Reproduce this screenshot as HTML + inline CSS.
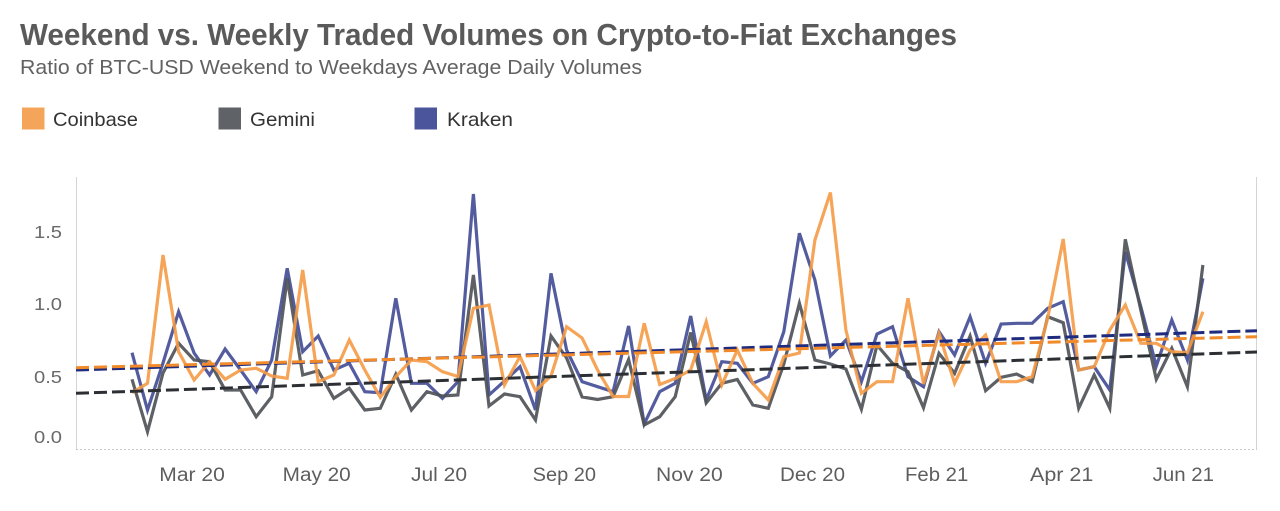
<!DOCTYPE html>
<html>
<head>
<meta charset="utf-8">
<style>
  html, body { margin: 0; padding: 0; background: #ffffff; }
  body { width: 1280px; height: 511px; overflow: hidden; }
  svg { display: block; }
  text { font-family: "Liberation Sans", "DejaVu Sans", sans-serif; }
</style>
</head>
<body>
<svg width="1280" height="511" viewBox="0 0 1280 511" xmlns="http://www.w3.org/2000/svg">
  <rect x="0" y="0" width="1280" height="511" fill="#ffffff"/>

  <!-- Title & subtitle -->
  <text x="20" y="45" font-size="31" font-weight="bold" fill="#5a5a5a" textLength="937" lengthAdjust="spacingAndGlyphs">Weekend vs. Weekly Traded Volumes on Crypto-to-Fiat Exchanges</text>
  <text x="20" y="74" font-size="20" fill="#626262" textLength="622" lengthAdjust="spacingAndGlyphs">Ratio of BTC-USD Weekend to Weekdays Average Daily Volumes</text>

  <!-- Legend -->
  <rect x="22" y="107.5" width="22.5" height="22" fill="#f4a55a"/>
  <text x="53" y="126" font-size="19.5" fill="#333333" textLength="85" lengthAdjust="spacingAndGlyphs">Coinbase</text>
  <rect x="218.5" y="107.5" width="22.5" height="22" fill="#5f6266"/>
  <text x="250" y="126" font-size="19.5" fill="#333333" textLength="65" lengthAdjust="spacingAndGlyphs">Gemini</text>
  <rect x="414.5" y="107.5" width="22.5" height="22" fill="#4b559c"/>
  <text x="447" y="126" font-size="19.5" fill="#333333" textLength="66" lengthAdjust="spacingAndGlyphs">Kraken</text>

  <!-- Plot frame -->
  <line x1="76.5" y1="177" x2="76.5" y2="449" stroke="#d4d4d4" stroke-width="1"/>
  <line x1="1256.5" y1="177" x2="1256.5" y2="449" stroke="#d4d4d4" stroke-width="1"/>
  <line x1="76" y1="449.5" x2="1257" y2="449.5" stroke="#c8c8c8" stroke-width="1" stroke-dasharray="2,2"/>

  <!-- Y tick labels -->
  <g font-size="17.5" fill="#6a6a6a">
    <text x="34" y="238" textLength="28" lengthAdjust="spacingAndGlyphs">1.5</text>
    <text x="34" y="310" textLength="28" lengthAdjust="spacingAndGlyphs">1.0</text>
    <text x="34" y="383" textLength="28" lengthAdjust="spacingAndGlyphs">0.5</text>
    <text x="34" y="443" textLength="28" lengthAdjust="spacingAndGlyphs">0.0</text>
  </g>

  <!-- X tick labels -->
  <g font-size="19" fill="#5e5e5e">
    <text x="159.3" y="481" textLength="65.5" lengthAdjust="spacingAndGlyphs">Mar 20</text>
    <text x="282.7" y="481" textLength="68" lengthAdjust="spacingAndGlyphs">May 20</text>
    <text x="411" y="481" textLength="56" lengthAdjust="spacingAndGlyphs">Jul 20</text>
    <text x="532.7" y="481" textLength="63.3" lengthAdjust="spacingAndGlyphs">Sep 20</text>
    <text x="656" y="481" textLength="66.7" lengthAdjust="spacingAndGlyphs">Nov 20</text>
    <text x="780" y="481" textLength="65" lengthAdjust="spacingAndGlyphs">Dec 20</text>
    <text x="905" y="481" textLength="63.3" lengthAdjust="spacingAndGlyphs">Feb 21</text>
    <text x="1030" y="481" textLength="63.3" lengthAdjust="spacingAndGlyphs">Apr 21</text>
    <text x="1152.7" y="481" textLength="61.3" lengthAdjust="spacingAndGlyphs">Jun 21</text>
  </g>

  <!-- Series -->
  <g fill="none" stroke-width="3.2" stroke-linejoin="miter" stroke-linecap="butt">
    <!-- Kraken -->
    <polyline stroke="#4a5399" stroke-opacity="0.95" points="132,352.7 147.5,410 163,363 178.6,311.7 194.1,353 209.6,375 225.1,349 240.6,370 256.2,391.7 271.7,360 287.2,268.3 302.7,351.7 318.2,336 333.8,370 349.3,363.3 364.8,391.7 380.3,392.7 395.8,298.3 411.4,383.3 426.9,383.3 442.4,398.3 457.9,381.7 473.4,194 489,395 504.5,381 520,366.7 535.5,410 551,273.3 566.6,350 582.1,381.7 597.6,386.7 613.1,391.7 628.6,326 644.2,424 659.7,391.7 675.2,383.3 690.7,316 706.2,400 721.8,361.7 737.3,363.3 752.8,383.3 768.3,376.7 783.8,331.7 799.4,233.3 814.9,280 830.4,356 845.9,340 861.4,381.7 877,334 892.5,326.7 908,376.7 923.5,386.7 939,331.7 954.6,355 970.1,316.7 985.6,363.3 1001.1,324 1016.6,323.3 1032.2,323.3 1047.7,308.3 1063.2,301.7 1078.7,370 1094.2,366.7 1109.8,390 1125.3,251.7 1140.8,306.7 1156.3,366 1171.8,320 1187.4,360 1202.9,278.3"/>
    <!-- Gemini -->
    <polyline stroke="#4f5357" stroke-opacity="0.92" points="132,379.3 147.5,431.7 163,373 178.6,343.3 194.1,360 209.6,361.7 225.1,390 240.6,390 256.2,416.7 271.7,396.7 287.2,278.3 302.7,375 318.2,370.7 333.8,398.3 349.3,388.3 364.8,410 380.3,408.3 395.8,374.3 411.4,410 426.9,391.7 442.4,396 457.9,395 473.4,275 489,406 504.5,394 520,396.7 535.5,420 551,336 566.6,358 582.1,397 597.6,399.5 613.1,396.7 628.6,359.5 644.2,425 659.7,416.7 675.2,396.7 690.7,332.5 706.2,403 721.8,383.3 737.3,379.5 752.8,405 768.3,408.3 783.8,364 799.4,303.3 814.9,360 830.4,364 845.9,369 861.4,409.3 877,345 892.5,363.3 908,371.7 923.5,407.7 939,353.3 954.6,373.3 970.1,336 985.6,390.7 1001.1,377.3 1016.6,374 1032.2,381.7 1047.7,316.7 1063.2,322.7 1078.7,408.3 1094.2,375 1109.8,408.3 1125.3,239.3 1140.8,310 1156.3,379.3 1171.8,348.3 1187.4,386.7 1202.9,265"/>
    <!-- Coinbase -->
    <polyline stroke="#f59a45" stroke-opacity="0.9" points="132,392.7 147.5,383.3 163,255 178.6,351.7 194.1,380 209.6,361.7 225.1,379.3 240.6,370 256.2,368.3 271.7,376 287.2,378.3 302.7,270 318.2,381.7 333.8,375 349.3,340 364.8,370 380.3,397.3 395.8,376.7 411.4,360 426.9,361.7 442.4,371.7 457.9,376.5 473.4,308.3 489,305 504.5,385 520,356.5 535.5,390.5 551,376 566.6,326.7 582.1,338 597.6,370 613.1,396.5 628.6,396.5 644.2,323.3 659.7,384.5 675.2,378.5 690.7,370 706.2,321.7 721.8,385 737.3,350 752.8,383.3 768.3,400 783.8,356.7 799.4,353 814.9,240 830.4,192.5 845.9,330 861.4,393.3 877,381.7 892.5,381.7 908,298.3 923.5,384 939,333.3 954.6,383.3 970.1,350 985.6,335 1001.1,381.7 1016.6,381.7 1032.2,376.7 1047.7,318 1063.2,239 1078.7,370 1094.2,366.7 1109.8,330 1125.3,305 1140.8,343.3 1156.3,343.3 1171.8,351.7 1187.4,352.7 1202.9,311.7"/>
  </g>

  <!-- Trend lines -->
  <g fill="none" stroke-width="3" stroke-dasharray="13,5">
    <line x1="76" y1="370" x2="1257" y2="330.7" stroke="#1f2b7e"/>
    <line x1="76" y1="393.3" x2="1257" y2="352" stroke="#2c3034"/>
    <line x1="76" y1="367.7" x2="1257" y2="336.7" stroke="#f08a2a"/>
  </g>
</svg>
</body>
</html>
